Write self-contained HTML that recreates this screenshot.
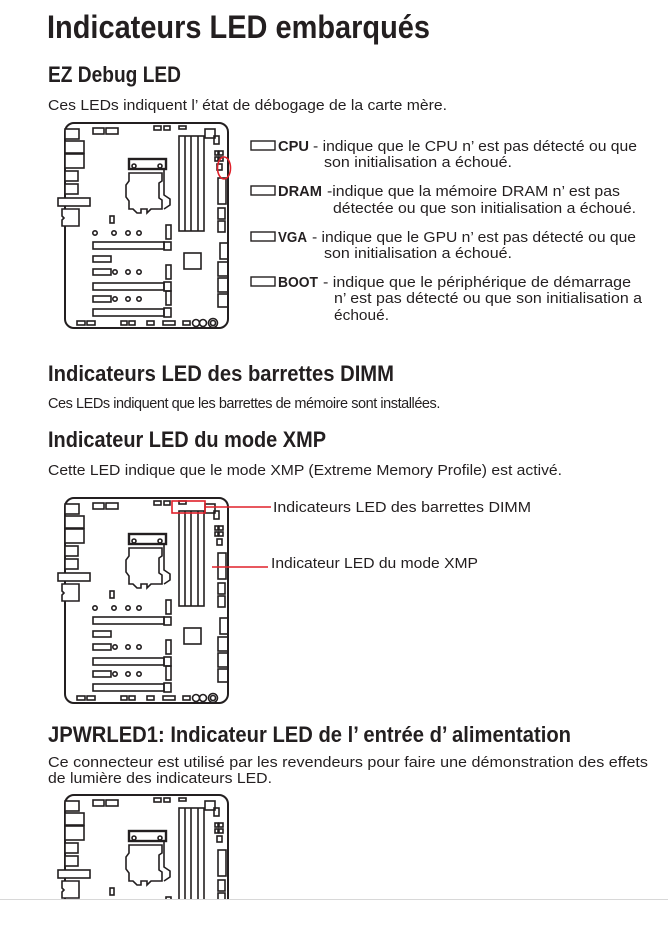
<!DOCTYPE html>
<html><head><meta charset="utf-8"><style>
html,body{margin:0;padding:0;background:#fff;width:668px;height:934px;overflow:hidden;position:relative}
svg{display:block}
text{font-family:"Liberation Sans",sans-serif;fill:#231f20}
.b{font-weight:bold;font-family:"Liberation Sans Narrow","Liberation Sans",sans-serif}
.t{position:absolute;font-family:"Liberation Sans",sans-serif;color:#231f20;font-size:14.5px;line-height:17px;white-space:nowrap;letter-spacing:-0.45px}
</style></head><body>
<svg width="668" height="934" viewBox="0 0 668 934" xmlns="http://www.w3.org/2000/svg">
<defs>
<g id="mb" fill="none" stroke="#231f20" stroke-width="1.6">
<rect x="0" y="0" width="163" height="205" rx="9" stroke-width="2"/>
<g fill="#fff">
<rect x="0" y="6" width="14" height="10"/><rect x="0" y="18" width="19" height="12"/><rect x="0" y="31" width="19" height="14"/>
<rect x="0" y="48" width="13" height="10"/><rect x="0" y="61" width="13" height="10"/><rect x="-7" y="75" width="32" height="8"/>
<path d="M-3 86 H14 V103 H-3 V97 L-1 95 L-3 93Z"/>
</g>
<rect x="28" y="5" width="11" height="6"/><rect x="41" y="5" width="12" height="6"/>
<rect x="89" y="3" width="7" height="4"/><rect x="99" y="3" width="6" height="4"/><rect x="114" y="3" width="7" height="3"/>
<rect x="140" y="6" width="10" height="9"/><rect x="149" y="13" width="5" height="8"/>
<rect x="114" y="13" width="25" height="95"/><line x1="120" y1="13" x2="120" y2="108"/><line x1="126" y1="13" x2="126" y2="108"/><line x1="133" y1="13" x2="133" y2="108"/>
<rect x="64" y="36" width="37" height="10" stroke-width="2.4"/><circle cx="69" cy="43" r="2"/><circle cx="95" cy="43" r="2"/>
<path d="M64 50 H97 V58 L94 60 V75 L97 77 V86 H86 L82 90 V86 H76 V90 H72 L68 86 H64 V78 L61 74 V62 L64 58Z"/>
<path d="M99 46 V72 L105 76 V82 L99 86"/>
<rect x="154" y="28" width="4" height="4"/><rect x="154" y="34" width="4" height="4"/><rect x="150" y="28" width="3" height="4"/><rect x="150" y="34" width="3" height="4"/>
<rect x="152" y="41" width="5" height="6"/>
<rect x="153" y="55" width="8" height="26"/><rect x="153" y="85" width="7" height="11"/><rect x="153" y="98" width="7" height="11"/>
<rect x="155" y="120" width="8" height="16"/><rect x="153" y="139" width="10" height="14"/><rect x="153" y="155" width="10" height="14"/><rect x="153" y="171" width="10" height="13"/>
<rect x="119" y="130" width="17" height="16"/>
<rect x="45" y="93" width="4" height="7"/><rect x="101" y="102" width="5" height="14"/>
<circle cx="30" cy="110" r="2.2"/><circle cx="49" cy="110" r="2.2"/><circle cx="63" cy="110" r="2.2"/><circle cx="74" cy="110" r="2.2"/>
<rect x="28" y="119" width="71" height="7"/><rect x="99" y="119" width="7" height="8"/>
<rect x="28" y="133" width="18" height="6"/>
<rect x="28" y="146" width="18" height="6"/><circle cx="50" cy="149" r="2.2"/><circle cx="63" cy="149" r="2.2"/><circle cx="74" cy="149" r="2.2"/>
<rect x="101" y="142" width="5" height="14"/>
<rect x="28" y="160" width="71" height="7"/><rect x="99" y="159" width="7" height="9"/>
<rect x="28" y="173" width="18" height="6"/><circle cx="50" cy="176" r="2.2"/><circle cx="63" cy="176" r="2.2"/><circle cx="74" cy="176" r="2.2"/>
<rect x="101" y="168" width="5" height="14"/>
<rect x="28" y="186" width="71" height="7"/><rect x="99" y="185" width="7" height="9"/>
<rect x="12" y="198" width="8" height="4"/><rect x="22" y="198" width="8" height="4"/><rect x="56" y="198" width="6" height="4"/><rect x="64" y="198" width="6" height="4"/>
<rect x="82" y="198" width="7" height="4"/><rect x="98" y="198" width="12" height="4"/><rect x="118" y="198" width="7" height="4"/>
<circle cx="131" cy="200" r="3.5"/><circle cx="138" cy="200" r="3.5"/><circle cx="148" cy="200" r="4.5"/><circle cx="148" cy="200" r="2.5"/>
</g>
<clipPath id="cp"><rect x="0" y="0" width="668" height="899"/></clipPath>
</defs>

<text x="47" y="38" class="b" font-size="32" textLength="383" lengthAdjust="spacingAndGlyphs">Indicateurs LED embarqués</text>
<text x="48" y="82" class="b" font-size="22" textLength="133" lengthAdjust="spacingAndGlyphs">EZ Debug LED</text>
<text x="48" y="110" font-size="14.5" textLength="399" lengthAdjust="spacingAndGlyphs">Ces LEDs indiquent l’ état de débogage de la carte mère.</text>

<use href="#mb" x="65" y="123"/>
<ellipse cx="224" cy="168" rx="6.5" ry="11" fill="none" stroke="#e0202a" stroke-width="1.6"/>

<g font-size="14.5">
<rect x="251" y="141" width="24" height="9" fill="none" stroke="#231f20" stroke-width="1.4"/>
<text x="278" y="151" class="b" textLength="31" lengthAdjust="spacingAndGlyphs">CPU</text>
<text x="313" y="151" textLength="324" lengthAdjust="spacingAndGlyphs">- indique que le CPU n’ est pas détecté ou que</text>
<text x="324" y="167" textLength="188" lengthAdjust="spacingAndGlyphs">son initialisation a échoué.</text>

<rect x="251" y="186" width="24" height="9" fill="none" stroke="#231f20" stroke-width="1.4"/>
<text x="278" y="196" class="b" textLength="44" lengthAdjust="spacingAndGlyphs">DRAM</text>
<text x="327" y="196" textLength="293" lengthAdjust="spacingAndGlyphs">-indique que la mémoire DRAM n’ est pas</text>
<text x="333" y="213" textLength="303" lengthAdjust="spacingAndGlyphs">détectée ou que son initialisation a échoué.</text>

<rect x="251" y="232" width="24" height="9" fill="none" stroke="#231f20" stroke-width="1.4"/>
<text x="278" y="242" class="b" textLength="29" lengthAdjust="spacingAndGlyphs">VGA</text>
<text x="312" y="242" textLength="324" lengthAdjust="spacingAndGlyphs">- indique que le GPU n’ est pas détecté ou que</text>
<text x="324" y="258" textLength="188" lengthAdjust="spacingAndGlyphs">son initialisation a échoué.</text>

<rect x="251" y="277" width="24" height="9" fill="none" stroke="#231f20" stroke-width="1.4"/>
<text x="278" y="287" class="b" textLength="40" lengthAdjust="spacingAndGlyphs">BOOT</text>
<text x="323" y="287" textLength="308" lengthAdjust="spacingAndGlyphs">- indique que le périphérique de démarrage</text>
<text x="334" y="303" textLength="308" lengthAdjust="spacingAndGlyphs">n’ est pas détecté ou que son initialisation a</text>
<text x="334" y="320" textLength="55" lengthAdjust="spacingAndGlyphs">échoué.</text>
</g>

<text x="48" y="381" class="b" font-size="22" textLength="346" lengthAdjust="spacingAndGlyphs">Indicateurs LED des barrettes DIMM</text>
<text x="48" y="447" class="b" font-size="22" textLength="278" lengthAdjust="spacingAndGlyphs">Indicateur LED du mode XMP</text>
<text x="48" y="475" font-size="14.5" textLength="514" lengthAdjust="spacingAndGlyphs">Cette LED indique que le mode XMP (Extreme Memory Profile) est activé.</text>

<use href="#mb" x="65" y="498"/>
<rect x="172" y="501" width="33" height="12" fill="none" stroke="#e0202a" stroke-width="1.6"/>
<line x1="205" y1="507" x2="271" y2="507" stroke="#e0202a" stroke-width="1.6"/>
<line x1="212" y1="567" x2="268" y2="567" stroke="#e0202a" stroke-width="1.6"/>
<text x="273" y="512" font-size="14.5" textLength="258" lengthAdjust="spacingAndGlyphs">Indicateurs LED des barrettes DIMM</text>
<text x="271" y="568" font-size="14.5" textLength="207" lengthAdjust="spacingAndGlyphs">Indicateur LED du mode XMP</text>

<text x="48" y="742" class="b" font-size="22" textLength="523" lengthAdjust="spacingAndGlyphs">JPWRLED1: Indicateur LED de l’ entrée d’ alimentation</text>
<text x="48" y="767" font-size="14.5" textLength="600" lengthAdjust="spacingAndGlyphs">Ce connecteur est utilisé par les revendeurs pour faire une démonstration des effets</text>
<text x="48" y="783" font-size="14.5" textLength="224" lengthAdjust="spacingAndGlyphs">de lumière des indicateurs LED.</text>

<g clip-path="url(#cp)"><use href="#mb" x="65" y="795"/></g>
<line x1="0" y1="899.5" x2="668" y2="899.5" stroke="#d8d8d8" stroke-width="1"/>
</svg>
<div class="t" style="left:48px;top:396px">Ces LEDs indiquent que les barrettes de mémoire sont installées.</div>
</body></html>
